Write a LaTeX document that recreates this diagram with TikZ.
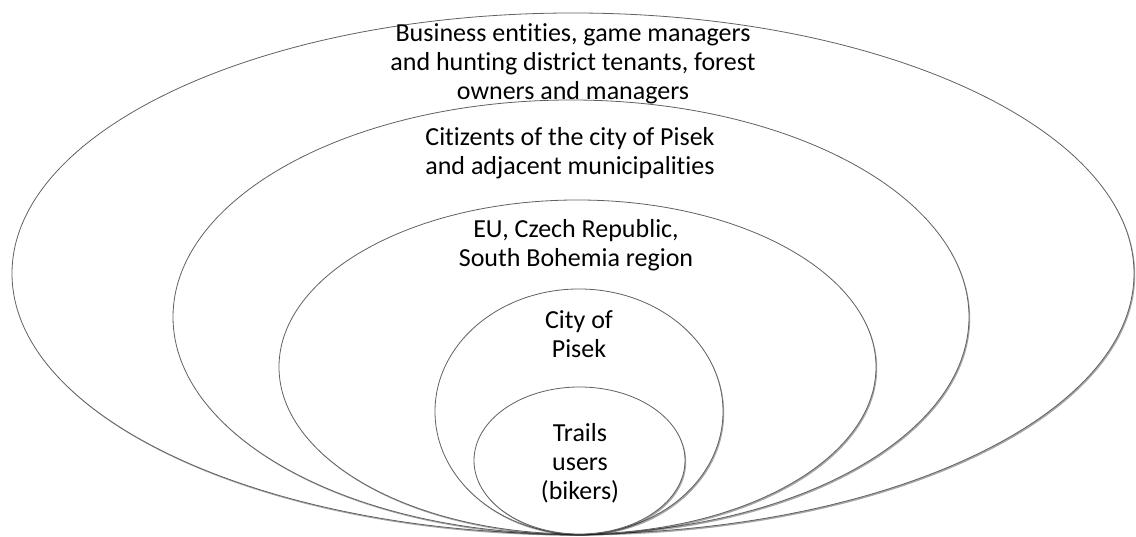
\documentclass[tikz,border=0pt]{standalone}
\usepackage{fontspec}
\setmainfont{Carlito}[RawFeature={-liga}]
\usetikzlibrary{shapes.geometric,shadows}
\begin{document}
\begin{tikzpicture}[x=1pt,y=1pt,
  ring/.style={ellipse, draw=black!62, line width=0.8pt, fill=white, inner sep=0pt, outer sep=0pt,
    drop shadow={shadow xshift=1.2pt, shadow yshift=-1.6pt, opacity=0.35, fill=black}},
  lbl/.style={align=center, font=\fontsize{26}{28.8}\selectfont, inner sep=0pt, text=black}]
\useasboundingbox (0,0) rectangle (1136,537);
% y_tikz = 537 - y_img
\node[ring, minimum width=1122pt, minimum height=521pt] (e1) at (573,263.5) {};
\node[ring, minimum width=796pt, minimum height=434pt] (e2) at (571,220) {};
\node[ring, minimum width=597pt, minimum height=334pt] (e3) at (577.5,170) {};
\node[ring, minimum width=288pt, minimum height=245pt] (e4) at (579,125.5) {};
\node[ring, minimum width=211pt, minimum height=147pt] (e5) at (579.5,76.5) {};
\node[lbl] (t1) at (573,473) {Business entities, game managers\\and hunting district tenants, forest\\owners and managers};
\node[lbl] (t2) at (570,384) {Citizents of the city of Pisek\\and adjacent municipalities};
\node[lbl] (t3) at (576,292) {EU, Czech Republic,\\South Bohemia region};
\node[lbl] (t4) at (579,202.5) {City of\\Pisek};
\node[lbl] (t5) at (580,74) {Trails\\users\\(bikers)};
\end{tikzpicture}
\end{document}
